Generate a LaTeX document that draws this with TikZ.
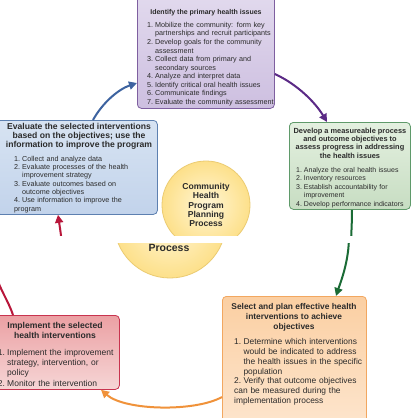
\documentclass[tikz,border=0pt]{standalone}
\usepackage{fontspec}
\setmainfont{Liberation Sans}
\usetikzlibrary{arrows.meta,calc}
\definecolor{txt}{HTML}{2B2B2B}
\definecolor{pubd}{HTML}{7E5FA0}\definecolor{pubt}{HTML}{E2DAEE}\definecolor{pubb}{HTML}{CDBFE0}
\definecolor{blbd}{HTML}{5D80B0}\definecolor{blbt}{HTML}{D7E3F2}\definecolor{blbb}{HTML}{C2D3EB}
\definecolor{grbd}{HTML}{5F9A6A}\definecolor{grbt}{HTML}{E4F0E0}\definecolor{grbb}{HTML}{C7DDC2}
\definecolor{orbd}{HTML}{F2A760}\definecolor{orbt}{HTML}{FBCFA2}\definecolor{orbb}{HTML}{FDE6CF}
\definecolor{rdbd}{HTML}{C8344F}\definecolor{rdbt}{HTML}{EBA0A3}\definecolor{rdbb}{HTML}{F6D6D6}
\definecolor{yebd}{HTML}{EBCB72}\definecolor{yein}{HTML}{FFF6D6}\definecolor{yeout}{HTML}{FDE08A}
\definecolor{arbl}{HTML}{3D63A0}\definecolor{arpu}{HTML}{5B2A86}\definecolor{argr}{HTML}{1A6B35}
\definecolor{aror}{HTML}{F0923A}\definecolor{arrd}{HTML}{B8163A}
\newcommand\itm[2]{\par\hangindent=1.11em\hangafter=1\noindent\makebox[1.11em][l]{#1.}#2}
\begin{document}
\begin{tikzpicture}[x=1pt,y=-1pt,
  panel/.style={draw, rounded corners=4pt, line width=0.8pt, inner sep=0pt, anchor=north west, rectangle},
  ttl/.style={inner sep=0pt, anchor=north, align=center, text=txt},
  lst/.style={inner sep=0pt, anchor=north west, text width=200pt, align=left, text=txt},
  arr/.style={line width=2pt, -{Triangle[length=8pt,width=8pt]}},
  seg/.style={line width=2pt},
  hub/.style={circle, draw=yebd, line width=0.8pt, inner color=yein, outer color=yeout, inner sep=0pt}]
\useasboundingbox (0,0) rectangle (413,418);
\fill[white] (0,0) rectangle (413,418);
% ---------------- upper part
\begin{scope}
\clip (-10,-10) rectangle (423,235);
\node[hub, minimum size=88pt] (hubtop) at (206,205) {};
\node[ttl, font=\bfseries\fontsize{8.6}{9.3}\selectfont] (hubtxt) at (206,183) {Community\\Health\\Program\\Planning\\Process};
\node[panel, draw=pubd, top color=pubt, bottom color=pubb, minimum width=137pt, minimum height=116pt] (purple) at (137,-8) {};
\node[panel, draw=blbd, top color=blbt, bottom color=blbb, minimum width=161pt, minimum height=94pt] (blue) at (-4,120) {};
\node[panel, draw=grbd, top color=grbt, bottom color=grbb, minimum width=121pt, minimum height=87pt] (green) at (289,122) {};
\node[ttl, font=\bfseries\fontsize{7}{8.55}\selectfont] (ptitle) at (206,9.7) {Identify the primary health issues};
\node[lst, font=\fontsize{7.2}{8.55}\selectfont] (plist) at (147,18.6) {%
\itm{1}{Mobilize the community: form key\newline partnerships and recruit participants}
\itm{2}{Develop goals for the community\newline assessment}
\itm{3}{Collect data from primary and\newline secondary sources}
\itm{4}{Analyze and interpret data}
\itm{5}{Identify critical oral health issues}
\itm{6}{Communicate findings}
\itm{7}{Evaluate the community assessment}};
\node[ttl, font=\bfseries\fontsize{8.6}{9}\selectfont] (btitle) at (79,123) {Evaluate the selected interventions\\based on the objectives; use the\\information to improve the program};
\node[lst, font=\fontsize{7.2}{8.35}\selectfont] (blist) at (14,152.6) {%
\itm{1}{Collect and analyze data}
\itm{2}{Evaluate processes of the health\newline improvement strategy}
\itm{3}{Evaluate outcomes based on\newline outcome objectives}
\itm{4}{Use information to improve the\newline program}};
\node[ttl, font=\bfseries\fontsize{7.4}{8.4}\selectfont] (gtitle) at (350,127.5) {Develop a measureable process\\and outcome objectives to\\assess progress in addressing\\the health issues};
\node[lst, font=\fontsize{7}{8.5}\selectfont] (glist) at (296,163.7) {%
\itm{1}{Analyze the oral health issues}
\itm{2}{Inventory resources}
\itm{3}{Establish accountability for\newline improvement}
\itm{4}{Develop performance indicators}};
\coordinate (g1) at (351,246);
\coordinate (r2) at (62,245);
\draw[arr, arbl] ($(blue.north west)+(97,0)$) .. controls +(10,-18) and +(-18,6) .. ($(purple.north west)+(0,91)$);
\draw[arr, arpu] ($(purple.north east)+(0,82)$) .. controls +(22,10) and +(-12,-20) .. ($(green.north west)+(38,0)$);
\draw[seg, argr] ($(green.south west)+(63,0)$) .. controls +(0,15) and +(0,-10) .. (g1);
\draw[arr, arrd] (r2) .. controls +(-1,-10) .. ($(blue.south west)+(62,0)$);
\end{scope}
% ---------------- lower part
\begin{scope}
\clip (-10,243) rectangle (423,428);
\node[hub, minimum size=112pt] (hubbot) at (170,222) {};
\node[ttl, font=\bfseries\fontsize{10.5}{11}\selectfont] (hubtxt2) at (169,243.6) {Process};
\node[panel, draw=orbd, top color=orbt, bottom color=orbb, minimum width=144pt, minimum height=134pt] (orange) at (222,296) {};
\node[panel, draw=rdbd, top color=rdbt, bottom color=rdbb, minimum width=125pt, minimum height=74pt] (red) at (-6,315) {};
\node[ttl, font=\bfseries\fontsize{8.4}{10}\selectfont] (otitle) at (294,303) {Select and plan effective health\\interventions to achieve\\objectives};
\node[lst, font=\fontsize{8.4}{9.7}\selectfont] (olist) at (234,335) {%
\itm{1}{Determine which interventions\newline would be indicated to address\newline the health issues in the specific\newline population}
\itm{2}{Verify that outcome objectives\newline can be measured during the\newline implementation process}};
\node[ttl, font=\bfseries\fontsize{8.6}{10}\selectfont] (rtitle) at (55,322) {Implement the selected\\health interventions};
\node[lst, font=\fontsize{8.5}{10.2}\selectfont] (rlist) at (-2.4,345) {%
\itm{1}{Implement the improvement\newline strategy, intervention, or\newline policy}
\itm{2}{Monitor the intervention}};
\coordinate (g2) at (349,236);
\coordinate (r1) at (-4,275);
\draw[arr, argr] (g2) .. controls +(0,25) and +(5,-15) .. ($(orange.north west)+(114,0)$);
\draw[arr, aror] ($(orange.north west)+(0,101)$) .. controls +(-27,15) and +(24,21) .. ($(red.south west)+(107,0)$);
\draw[seg, arrd] ($(red.north west)+(19,0)$) .. controls +(-5,-15) and +(4,15) .. (r1);
\end{scope}
\end{tikzpicture}
\end{document}
